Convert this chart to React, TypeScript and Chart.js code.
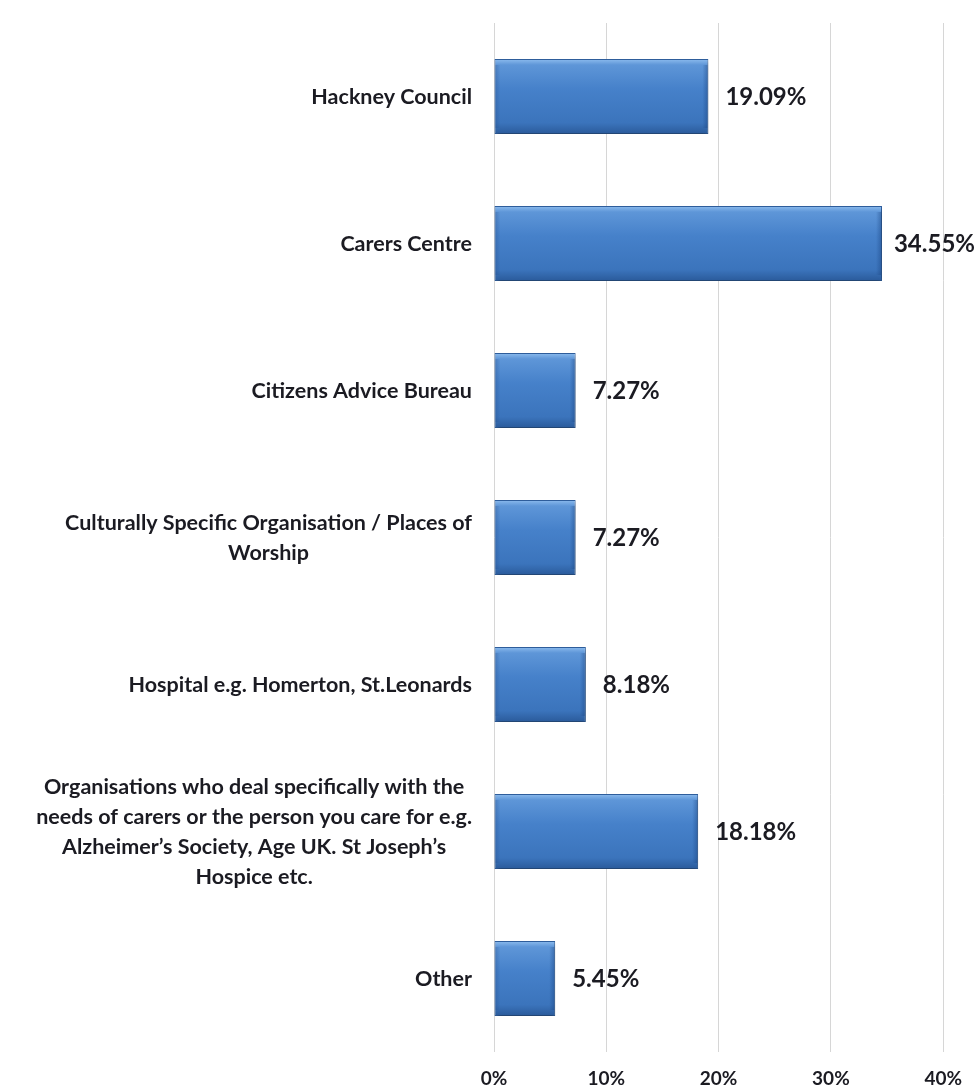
import React, { useEffect, useRef } from "react";
import { Chart, registerables } from "chart.js";

Chart.register(...registerables);

const categories: string[][] = [
  ["Hackney Council"],
  ["Carers Centre"],
  ["Citizens Advice Bureau"],
  ["Culturally Specific Organisation / Places of", "Worship"],
  ["Hospital e.g. Homerton, St.Leonards"],
  [
    "Organisations who deal specifically with the",
    "needs of carers or the person you care for e.g.",
    "Alzheimer\u2019s Society, Age UK. St Joseph\u2019s",
    "Hospice etc.",
  ],
  ["Other"],
];
const values: number[] = [19.09, 34.55, 7.27, 7.27, 8.18, 18.18, 5.45];
const valueLabels: string[] = ["19.09%", "34.55%", "7.27%", "7.27%", "8.18%", "18.18%", "5.45%"];
const xTicks: number[] = [0, 10, 20, 30, 40];

const FONT = "Lato, 'Open Sans', sans-serif";

const barStyler = {
  id: "barStyler",
  beforeDatasetDraw(chart: any, args: any) {
    const ctx = chart.ctx;
    const meta = args.meta;
    meta.data.forEach((el: any) => {
      const top = el.y - el.height / 2;
      const bot = el.y + el.height / 2;
      const g = ctx.createLinearGradient(0, top, 0, bot);
      g.addColorStop(0, "#8dbcee");
      g.addColorStop(0.08, "#5e96d8");
      g.addColorStop(0.4, "#4681ca");
      g.addColorStop(0.85, "#3b74bc");
      g.addColorStop(1, "#2a5a9a");
      el.options = Object.assign({}, el.options, { backgroundColor: g });
    });
    ctx.save();
    ctx.shadowColor = "rgba(0,0,0,0.35)";
    ctx.shadowBlur = 5;
    ctx.shadowOffsetX = 1;
    ctx.shadowOffsetY = 3;
  },
  afterDatasetDraw(chart: any, args: any) {
    const ctx = chart.ctx;
    ctx.restore();
    const meta = args.meta;
    meta.data.forEach((el: any) => {
      const left = el.base;
      const right = el.x;
      const top = el.y - el.height / 2;
      const bot = el.y + el.height / 2;
      const b = 6;
      ctx.save();
      let g = ctx.createLinearGradient(left, 0, left + b, 0);
      g.addColorStop(0, "rgba(30,70,130,0.35)");
      g.addColorStop(1, "rgba(30,70,130,0)");
      ctx.fillStyle = g;
      ctx.fillRect(left + 1, top + b, b, bot - top - 2 * b);
      g = ctx.createLinearGradient(right - b, 0, right, 0);
      g.addColorStop(0, "rgba(20,60,120,0)");
      g.addColorStop(1, "rgba(20,60,120,0.45)");
      ctx.fillStyle = g;
      ctx.fillRect(right - b - 1, top + b, b, bot - top - 2 * b);
      ctx.restore();
    });
  },
};

const labelsPlugin = {
  id: "labelsPlugin",
  afterDraw(chart: any) {
    const ctx = chart.ctx;
    const yScale = chart.scales.y;
    const meta = chart.getDatasetMeta(0);
    ctx.save();
    ctx.font = `bold 21.5px ${FONT}`;
    ctx.fillStyle = "#1b1b22";
    ctx.textBaseline = "middle";
    ctx.textAlign = "center";
    const rightEdge = 472;
    const lh = 30;
    categories.forEach((lines, i) => {
      const cy = yScale.getPixelForValue(i);
      const maxW = Math.max(...lines.map((l) => ctx.measureText(l).width));
      const cx = rightEdge - maxW / 2;
      const y0 = cy - ((lines.length - 1) * lh) / 2 + 1;
      lines.forEach((l, k) => ctx.fillText(l, cx, y0 + k * lh));
    });
    ctx.font = `bold 24px ${FONT}`;
    ctx.textAlign = "left";
    meta.data.forEach((el: any, i: number) => {
      const t = valueLabels[i];
      const w = ctx.measureText(t).width;
      let x = el.x + 17;
      if (x + w > chart.width - 2) x = chart.width - 2 - w;
      ctx.fillText(t, x, el.y + 1);
    });
    ctx.restore();
  },
};

export default function App() {
  const ref = useRef<HTMLCanvasElement | null>(null);
  useEffect(() => {
    if (!ref.current) return;
    const chart = new Chart(ref.current, {
      type: "bar",
      data: {
        labels: categories.map((c) => c.join(" ")),
        datasets: [
          {
            data: values,
            backgroundColor: "#4580c9",
            borderColor: "#2f5f9e",
            borderWidth: 1,
            borderSkipped: false,
            barPercentage: 0.73,
            categoryPercentage: 0.7,
          },
        ],
      },
      options: {
        indexAxis: "y",
        animation: false,
        responsive: true,
        maintainAspectRatio: false,
        layout: { padding: { left: 0, right: 30, top: 23, bottom: 0 } },
        plugins: {
          legend: { display: false },
          tooltip: { enabled: false },
        },
        scales: {
          x: {
            min: 0,
            max: 40,
            afterBuildTicks: (scale: any) => {
              scale.ticks = xTicks.map((v) => ({ value: v }));
            },
            afterFit: (scale: any) => {
              scale.height = 37;
            },
            grid: { color: "#d6d6d6", lineWidth: 1, drawTicks: false },
            border: { display: false },
            ticks: {
              padding: 15,
              color: "#1b1b22",
              font: { family: FONT, size: 19, weight: "bold" },
              callback: (v: any) => `${v}%`,
            },
          },
          y: {
            grid: { display: false },
            border: { display: false },
            ticks: { display: false },
            afterFit: (scale: any) => {
              scale.width = 494;
            },
          },
        },
      },
      plugins: [barStyler, labelsPlugin],
    });
    return () => chart.destroy();
  }, []);
  return (
    <div style={{ position: "absolute", left: 0, top: 0, width: 977, height: 1089, background: "#fff" }}>
      <canvas ref={ref} />
    </div>
  );
}
